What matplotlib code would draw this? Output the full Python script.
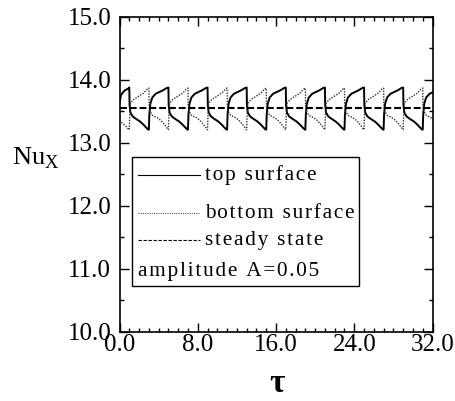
import matplotlib
matplotlib.use("Agg")
import matplotlib.pyplot as plt
from matplotlib.patches import Rectangle
from matplotlib.ticker import MultipleLocator, FormatStrFormatter
import numpy as np

# values
x_ticks = [0.0, 8.0, 16.0, 24.0, 32.0]
y_ticks = [10.0, 11.0, 12.0, 13.0, 14.0, 15.0]

period = 4.0
n_cycles = 8

# top surface: lead-in before the first drop at tau = 1, then one cycle starting at the drop
top_lead_tau = [0.0, 0.15, 0.5, 0.97]
top_lead_nu = [13.63, 13.76, 13.83, 13.87]
top_cycle_phase = [0.0, 0.03, 0.12, 0.35, 0.7, 1.1, 1.45, 1.75, 1.95, 2.0,
                   2.05, 2.15, 2.35, 2.7, 3.1, 3.5, 3.8, 3.97]
top_cycle_nu = [13.88, 13.60, 13.48, 13.42, 13.38, 13.34, 13.29, 13.24, 13.21, 13.21,
                13.45, 13.62, 13.72, 13.78, 13.81, 13.84, 13.87, 13.88]

# bottom surface: lead-in, then one cycle starting at the rise at tau = 1
bottom_lead_tau = [0.0, 0.4, 0.75, 0.97]
bottom_lead_nu = [13.36, 13.30, 13.25, 13.21]
bottom_cycle_phase = [0.0, 0.06, 0.12, 0.45, 0.95, 1.45, 1.8, 1.97, 2.0,
                      2.03, 2.12, 2.35, 2.85, 3.2, 3.55, 3.8, 3.97]
bottom_cycle_nu = [13.21, 13.50, 13.63, 13.69, 13.74, 13.79, 13.85, 13.87, 13.87,
                   13.58, 13.50, 13.44, 13.40, 13.36, 13.30, 13.25, 13.21]

steady_tau = [0.0, 32.0]
steady_nu = [13.55, 13.55]


def repeat_cycle(lead_tau, lead_nu, phase, nu, start):
    taus = list(lead_tau)
    vals = list(lead_nu)
    for k in range(n_cycles):
        taus += [start + k * period + p for p in phase]
        vals += list(nu)
    return np.array(taus), np.array(vals)


def spaced(s):
    # the original typesetting is letter-spaced
    return "\u200a".join(s)


top_tau, top_nu = repeat_cycle(top_lead_tau, top_lead_nu, top_cycle_phase, top_cycle_nu, 1.0)
bot_tau, bot_nu = repeat_cycle(bottom_lead_tau, bottom_lead_nu, bottom_cycle_phase, bottom_cycle_nu, 1.0)

plt.rcParams["font.family"] = ["Liberation Serif", "DejaVu Serif"]
plt.rcParams["mathtext.fontset"] = "custom"
plt.rcParams["mathtext.rm"] = "Liberation Serif"

fig = plt.figure(figsize=(4.55, 4.01), dpi=100)
ax = fig.add_axes([119.5 / 455, 1 - 331.7 / 401, 313 / 455, 314.7 / 401])

ax.plot(top_tau, top_nu, color="black", lw=1.4, solid_joinstyle="round")
ax.plot(bot_tau, bot_nu, color="#333333", lw=1.0, linestyle=(0, (1, 1)))
ax.plot(steady_tau, steady_nu, color="black", lw=1.5, linestyle=(0, (3.3, 1.4)))

ax.set_xlim(0, 32)
ax.set_ylim(10, 15)
ax.set_xticks(x_ticks)
ax.set_yticks(y_ticks)
ax.xaxis.set_minor_locator(MultipleLocator(1.0))
ax.yaxis.set_minor_locator(MultipleLocator(0.5))
ax.xaxis.set_major_formatter(FormatStrFormatter("%.1f"))
ax.yaxis.set_major_formatter(FormatStrFormatter("%.1f"))

ax.tick_params(which="both", direction="in", top=True, right=True, width=1.0,
               labelsize=18)
ax.tick_params(which="major", length=6.5)
ax.tick_params(which="minor", length=3.2)
ax.tick_params(axis="x", pad=2)
ax.tick_params(axis="y", pad=6)
for s in ax.spines.values():
    s.set_linewidth(1.2)

# legend box drawn by hand, as in the original
ax.add_patch(Rectangle((0.04, 0.145), 0.725, 0.41, transform=ax.transAxes,
                       fill=False, edgecolor="black", lw=1.0))
hx0, hx1, tx = 0.059, 0.257, 0.273
ax.plot([hx0, hx1], [0.497, 0.497], transform=ax.transAxes, color="black", lw=0.8)
ax.plot([hx0, hx1], [0.377, 0.377], transform=ax.transAxes, color="#555555", lw=0.8,
        linestyle=(0, (1, 1)))
ax.plot([hx0, hx1], [0.29, 0.29], transform=ax.transAxes, color="black", lw=0.8,
        linestyle=(0, (3, 1.5)))
ax.text(tx, 0.497, spaced("top surface"), transform=ax.transAxes, fontsize=15.3,
        va="center")
ax.text(tx, 0.377, spaced("bottom surface"), transform=ax.transAxes, fontsize=15.3,
        va="center")
ax.text(tx, 0.29, spaced("steady state"), transform=ax.transAxes, fontsize=15.3,
        va="center")
ax.text(hx0, 0.19, spaced("amplitude A=0.05"), transform=ax.transAxes, fontsize=15.3,
        va="center")

fig.text(12 / 455, 1 - 158 / 401, r"$\mathrm{Nu}_{\mathrm{X}}$", fontsize=19, va="center")
fig.text(277 / 455, 1 - 384 / 401, "τ", fontsize=24, fontweight="bold",
         ha="center", va="center")

fig.savefig("out.png", dpi=100)
